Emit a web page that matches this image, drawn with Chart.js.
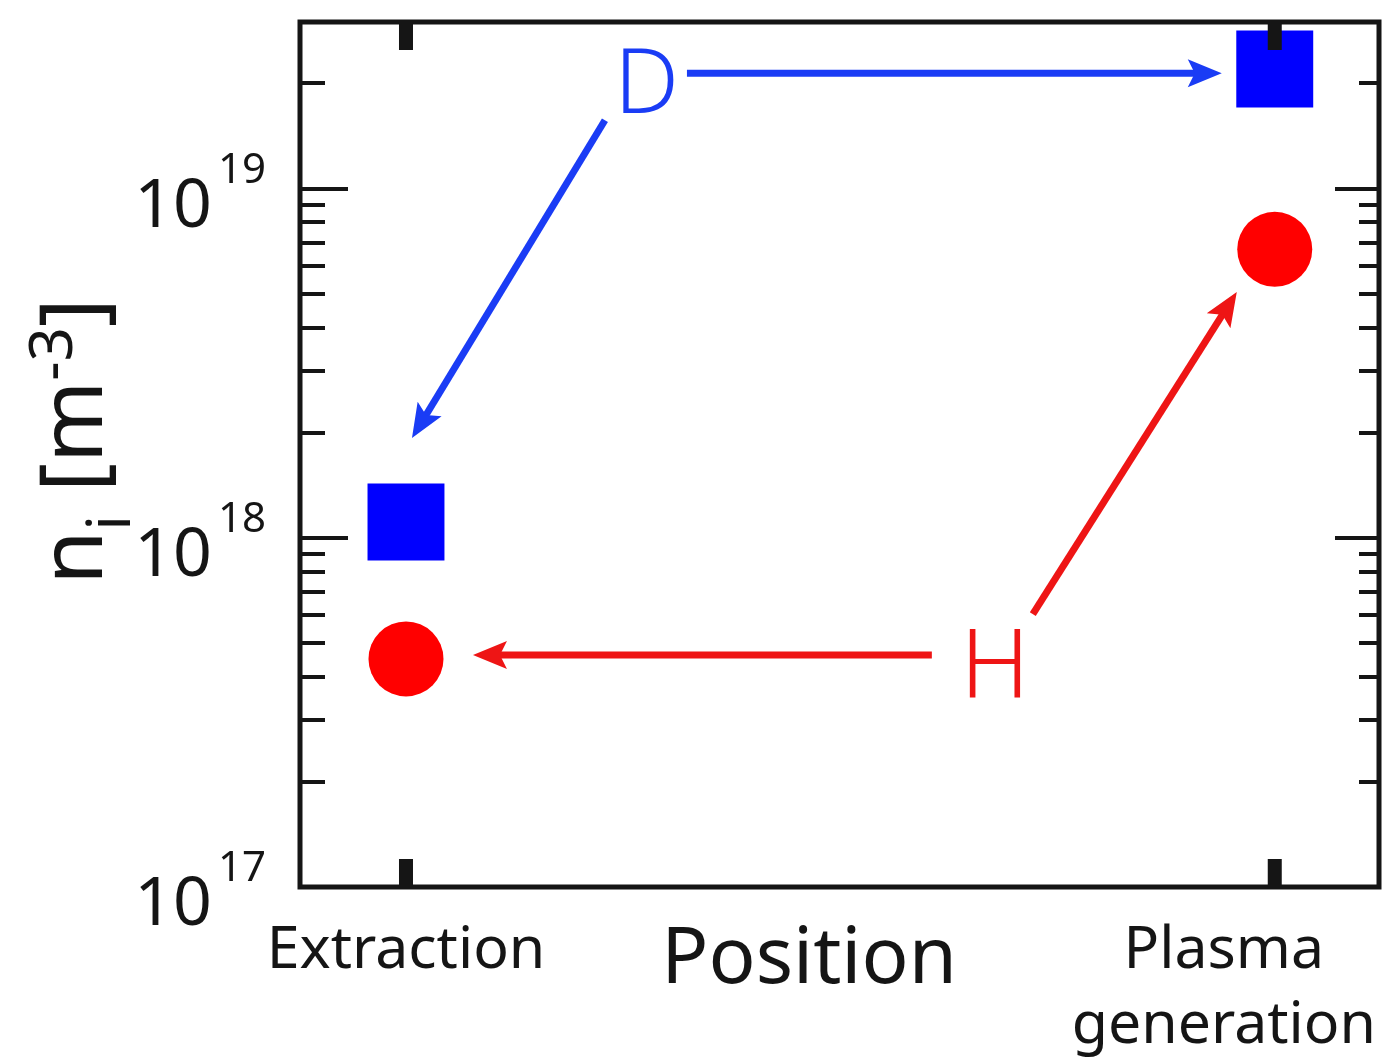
<!DOCTYPE html>
<html>
<head>
<meta charset="utf-8">
<script src="https://cdn.jsdelivr.net/npm/chart.js@4.4.1/dist/chart.umd.min.js"></script>
<style>
html,body{margin:0;padding:0;background:#ffffff;overflow:hidden}
#wrap{width:1382px;height:1061px;position:relative}
canvas{display:block}
</style>
</head>
<body>
<div id="wrap"><canvas id="c" width="1382" height="1061"></canvas></div>
<script>
// ---- data ----
const categories = ['Extraction', ['Plasma', 'generation']];
const categoryX = [0, 1];
const seriesD = [1.11e18, 2.2e19];   // deuterium (blue squares)
const seriesH = [4.5e17, 6.7e18];    // hydrogen (red circles)
const yMajorTicks = [1e17, 1e18, 1e19];
const yMajorExponents = ['17', '18', '19'];
const yMinorTicks = [2e17, 3e17, 4e17, 5e17, 6e17, 7e17, 8e17, 9e17,
                     2e18, 3e18, 4e18, 5e18, 6e18, 7e18, 8e18, 9e18,
                     2e19];
const xTitle = 'Position';
const yTitleMain = 'n';
const yTitleSub = 'i';
const yTitleUnitOpen = ' [m';
const yTitleSup = '-3';
const yTitleUnitClose = ']';
// annotation labels and arrows (in data coordinates)
const labelTexts = ['D', 'H'];
const labelX = [0.277, 0.678];
const labelY = [1.65e19, 3.5e17];
const arrowFromX = [0.3234, 0.229, 0.6053, 0.7215];
const arrowFromY = [2.14e19, 1.57e19, 4.62e17, 6.05e17];
const arrowToX = [0.939, 0.0069, 0.0771, 0.9563];
const arrowToY = [2.14e19, 1.93e18, 4.62e17, 5.06e18];
const arrowSeries = ['D', 'D', 'H', 'H'];

const BLUE_MARK = '#0000ff';
const RED_MARK = '#ff0000';
const BLUE_ANN = '#1a3cf5';
const RED_ANN = '#ee1515';
const INK = '#151515';
const FONT = '"Noto Sans", "DejaVu Sans", sans-serif';

function drawArrow(ctx, x1, y1, x2, y2, color) {
  const a = Math.atan2(y2 - y1, x2 - x1);
  const c = Math.cos(a), s = Math.sin(a);
  const L = 34, W = 14, notch = 7;
  const bx = x2 - L * c, by = y2 - L * s;
  const nx = x2 - (L - notch) * c, ny = y2 - (L - notch) * s;
  ctx.save();
  ctx.strokeStyle = color;
  ctx.lineWidth = 7;
  ctx.lineCap = 'butt';
  ctx.beginPath();
  ctx.moveTo(x1, y1);
  ctx.lineTo(nx + 2 * c, ny + 2 * s);
  ctx.stroke();
  ctx.fillStyle = color;
  ctx.beginPath();
  ctx.moveTo(x2, y2);
  ctx.lineTo(bx + W * s, by - W * c);
  ctx.lineTo(nx, ny);
  ctx.lineTo(bx - W * s, by + W * c);
  ctx.closePath();
  ctx.fill();
  ctx.restore();
}

const decorPlugin = {
  id: 'decor',
  afterDatasetsDraw(chart) {
    const ctx = chart.ctx;
    const area = chart.chartArea;
    const xs = chart.scales.x, ys = chart.scales.y;

    // arrows
    for (let i = 0; i < arrowFromX.length; i++) {
      drawArrow(ctx,
        xs.getPixelForValue(arrowFromX[i]), ys.getPixelForValue(arrowFromY[i]),
        xs.getPixelForValue(arrowToX[i]), ys.getPixelForValue(arrowToY[i]),
        arrowSeries[i] === 'D' ? BLUE_ANN : RED_ANN);
    }
    // annotation letters
    ctx.save();
    ctx.textAlign = 'center';
    ctx.textBaseline = 'alphabetic';
    for (let i = 0; i < labelTexts.length; i++) {
      ctx.font = (labelTexts[i] === 'D' ? '300 91px ' : '300 96px ') + FONT;
      ctx.fillStyle = labelTexts[i] === 'D' ? BLUE_ANN : RED_ANN;
      ctx.fillText(labelTexts[i], xs.getPixelForValue(labelX[i]), ys.getPixelForValue(labelY[i]));
    }
    ctx.restore();

    // frame
    ctx.save();
    ctx.strokeStyle = INK;
    ctx.fillStyle = INK;
    ctx.lineWidth = 5;
    ctx.strokeRect(area.left, area.top, area.right - area.left, area.bottom - area.top);

    // y ticks (inside, both sides)
    ctx.lineWidth = 4;
    ctx.beginPath();
    yMajorTicks.forEach(v => {
      const py = Math.round(ys.getPixelForValue(v));
      ctx.moveTo(area.left, py); ctx.lineTo(area.left + 48, py);
      ctx.moveTo(area.right, py); ctx.lineTo(area.right - 44, py);
    });
    yMinorTicks.forEach(v => {
      const py = Math.round(ys.getPixelForValue(v));
      ctx.moveTo(area.left, py); ctx.lineTo(area.left + 25, py);
      ctx.moveTo(area.right, py); ctx.lineTo(area.right - 20, py);
    });
    ctx.stroke();

    // x ticks (inside, top and bottom)
    categoryX.forEach(v => {
      const px = xs.getPixelForValue(v);
      ctx.fillRect(px - 7, area.bottom - 28, 14, 28);
      ctx.fillRect(px - 7, area.top, 14, 28);
    });

    // y tick labels 10^n
    ctx.textBaseline = 'alphabetic';
    yMajorTicks.forEach((v, i) => {
      const py = ys.getPixelForValue(v);
      ctx.font = '68px ' + FONT;
      ctx.textAlign = 'right';
      ctx.fillText('10', area.left - 88, py + 38);
      ctx.font = '42px ' + FONT;
      ctx.textAlign = 'left';
      ctx.fillText(yMajorExponents[i], area.left - 82, py - 6);
    });

    // x tick labels
    ctx.font = '59px ' + FONT;
    ctx.textAlign = 'center';
    categories.forEach((lab, i) => {
      const lines = Array.isArray(lab) ? lab : [lab];
      const px = xs.getPixelForValue(categoryX[i]);
      const w = Math.max(...lines.map(l => ctx.measureText(l).width));
      const cx = Math.min(px, chart.width - 6 - w / 2);
      lines.forEach((l, j) => ctx.fillText(l, cx, area.bottom + 81 + j * 75));
    });

    // x title
    ctx.font = '78px ' + FONT;
    ctx.textAlign = 'center';
    ctx.fillText(xTitle, xs.getPixelForValue(0.464), area.bottom + 96);

    // y title (rotated)
    const mainF = '88px ' + FONT, smallF = '60px ' + FONT;
    ctx.font = mainF; const wN = ctx.measureText(yTitleMain).width;
    const wOpen = ctx.measureText(yTitleUnitOpen).width;
    const wClose = ctx.measureText(yTitleUnitClose).width;
    ctx.font = smallF; const wSub = ctx.measureText(yTitleSub).width;
    const wSup = ctx.measureText(yTitleSup).width;
    const total = wN + wSub + wOpen + wSup + wClose;
    const cy = (area.top + area.bottom) / 2 - 13;
    ctx.translate(area.left - 198, cy + total / 2);
    ctx.rotate(-Math.PI / 2);
    ctx.textAlign = 'left';
    let tx = 0;
    ctx.font = mainF; ctx.fillText(yTitleMain, tx, 0); tx += wN;
    ctx.font = smallF; ctx.fillText(yTitleSub, tx, 28); tx += wSub;
    ctx.font = mainF; ctx.fillText(yTitleUnitOpen, tx, 0); tx += wOpen;
    ctx.font = smallF; ctx.fillText(yTitleSup, tx, -30); tx += wSup;
    ctx.font = mainF; ctx.fillText(yTitleUnitClose, tx, 0);
    ctx.restore();
  }
};

new Chart(document.getElementById('c'), {
  type: 'scatter',
  data: {
    datasets: [
      {
        label: 'D',
        data: categoryX.map((x, i) => ({ x: x, y: seriesD[i] })),
        pointStyle: 'rect',
        pointRadius: 54.4,
        pointHoverRadius: 54.4,
        backgroundColor: BLUE_MARK,
        borderColor: BLUE_MARK,
        borderWidth: 0,
        showLine: false
      },
      {
        label: 'H',
        data: categoryX.map((x, i) => ({ x: x, y: seriesH[i] })),
        pointStyle: 'circle',
        pointRadius: 37.5,
        pointHoverRadius: 37.5,
        backgroundColor: RED_MARK,
        borderColor: RED_MARK,
        borderWidth: 0,
        showLine: false
      }
    ]
  },
  options: {
    responsive: false,
    animation: false,
    devicePixelRatio: 1,
    events: [],
    layout: { autoPadding: false, padding: { left: 300, top: 22, right: 3, bottom: 174 } },
    plugins: { legend: { display: false }, tooltip: { enabled: false } },
    scales: {
      x: { type: 'linear', min: -0.122, max: 1.12, display: false },
      y: { type: 'logarithmic', min: 1e17, max: 3e19, display: false }
    }
  },
  plugins: [decorPlugin]
});
</script>
</body>
</html>
